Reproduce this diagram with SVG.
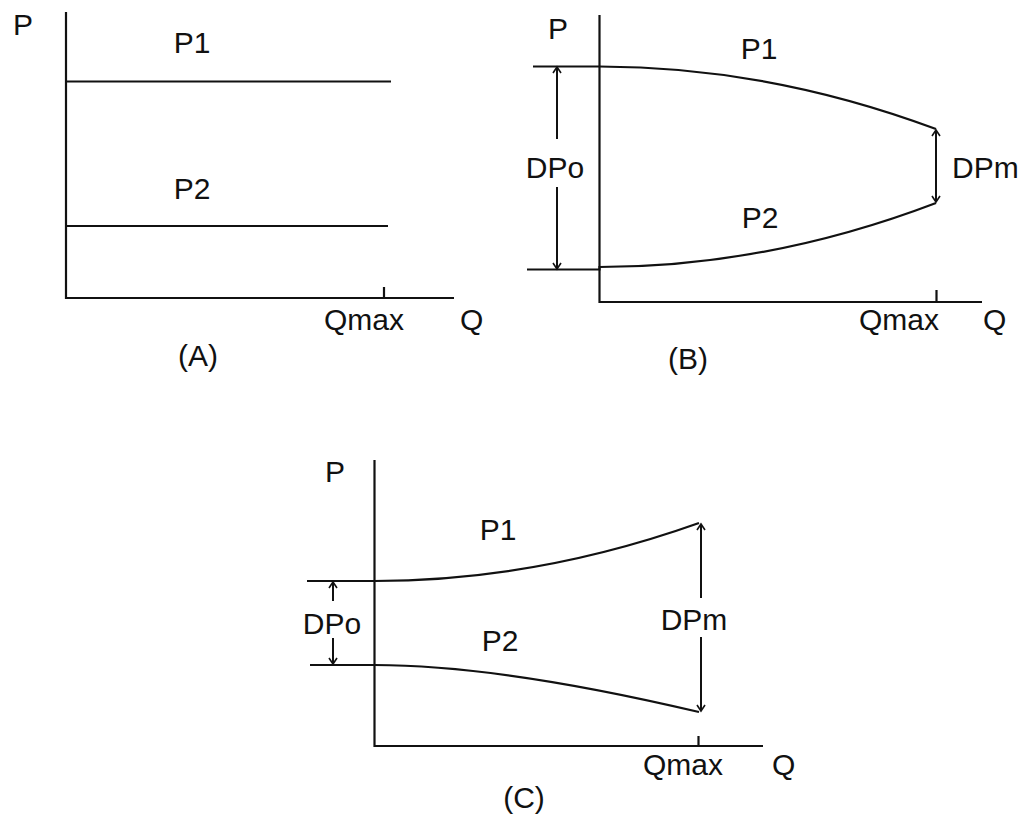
<svg xmlns="http://www.w3.org/2000/svg" width="1028" height="815" viewBox="0 0 1028 815">
<defs>
<style>
.ln{fill:none;stroke:#111;stroke-width:2.2;stroke-linecap:butt}
.ar{fill:none;stroke:#111;stroke-width:2}
text{font-family:"Liberation Sans",Arial,sans-serif;font-size:30px;fill:#111}
.m{text-anchor:middle}
</style>
<marker id="ah" viewBox="-8 -6 10 12" markerWidth="10" markerHeight="12" markerUnits="userSpaceOnUse" orient="auto-start-reverse" refX="0" refY="0">
<path d="M-6,-4 L0,0 L-6,4" fill="none" stroke="#111" stroke-width="1.6"/>
</marker>
</defs>
<rect width="1028" height="815" fill="#fff"/>

<g id="panelA">
<path class="ln" d="M66,12 V298 H454 M384,287 V298"/>
<path class="ln" d="M66,81.5 H391 M66,226 H388"/>
<text x="13" y="35">P</text>
<text class="m" x="192" y="53">P1</text>
<text class="m" x="192" y="199">P2</text>
<text class="m" x="364" y="330">Qmax</text>
<text x="460" y="330">Q</text>
<text class="m" x="198" y="366">(A)</text>
</g>

<g id="panelB">
<path class="ln" d="M599.5,15 V302 H982 M936.5,290 V302"/>
<path class="ln" d="M533,66.5 H599.5 Q768,66.5 936,129"/>
<path class="ln" d="M527,269.5 H599.5 V267 Q768,267 936,203"/>
<text x="548" y="39">P</text>
<text class="m" x="759" y="59">P1</text>
<text class="m" x="760" y="228">P2</text>
<text class="m" x="555" y="178">DPo</text>
<text x="952" y="178">DPm</text>
<text class="m" x="899" y="330">Qmax</text>
<text x="983" y="330">Q</text>
<text class="m" x="688" y="369">(B)</text>
</g>

<g id="panelC">
<path class="ln" d="M374.5,460 V746 H763 M698.5,736 V746"/>
<path class="ln" d="M307,581 H374.5 Q536,581 699,523"/>
<path class="ln" d="M310,665 H374.5 Q500,665 699,712"/>
<text x="325" y="482">P</text>
<text class="m" x="498" y="540">P1</text>
<text class="m" x="500" y="651">P2</text>
<text class="m" x="332" y="634">DPo</text>
<text class="m" x="694" y="630">DPm</text>
<text class="m" x="683" y="775">Qmax</text>
<text x="772" y="775">Q</text>
<text class="m" x="524" y="808">(C)</text>
</g>

<g id="connectors">
<line class="ar" x1="557" y1="139" x2="557" y2="67" marker-end="url(#ah)"/>
<line class="ar" x1="557" y1="187" x2="557" y2="269" marker-end="url(#ah)"/>
<line class="ar" x1="936" y1="130" x2="936" y2="202" marker-start="url(#ah)" marker-end="url(#ah)"/>
<line class="ar" x1="333" y1="601" x2="333" y2="582" marker-end="url(#ah)"/>
<line class="ar" x1="333" y1="638" x2="333" y2="664" marker-end="url(#ah)"/>
<line class="ar" x1="701" y1="598" x2="701" y2="524" marker-end="url(#ah)"/>
<line class="ar" x1="701" y1="637" x2="701" y2="711" marker-end="url(#ah)"/>
</g>
</svg>
